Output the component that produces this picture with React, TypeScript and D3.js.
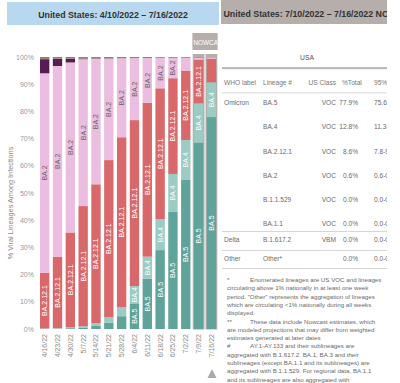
import React from "react";
import * as d3 from "d3";

const dates = ["4/16/22","4/23/22","4/30/22","5/7/22","5/14/22","5/21/22","5/28/22","6/4/22","6/11/22","6/18/22","6/25/22","7/2/22","7/9/22","7/16/22"];
const ba5 = [0.1,0.1,0.3,0.5,1.3,2.3,4.7,9.4,18.5,29.0,43.0,54.8,68.5,77.9];
const ba4 = [0.1,0.2,0.4,0.5,0.9,2.0,3.3,6.4,8.1,11.4,14.0,14.7,14.5,12.8];
const ba2121 = [20.5,26.3,34.8,44.2,51.0,57.8,62.5,61.0,56.6,48.1,35.2,25.5,16.0,8.6];
const ba2 = [73.3,70.1,62.5,54.0,46.1,37.3,29.0,22.8,16.4,11.2,7.5,4.7,0.8,0.6];
const ba11 = [5.2,2.7,1.4,0.2,0.1,0.1,0,0,0,0,0,0,0,0];
const other = [0.8,0.6,0.6,0.6,0.6,0.5,0.5,0.4,0.4,0.3,0.3,0.3,0.2,0.1];
const nowcastCount = 2;

const seriesNames = ["BA.5","BA.4","BA.2.12.1","BA.2","BA.1.1","Other"];
const seriesValues = [ba5, ba4, ba2121, ba2, ba11, other];
const seriesColors = ["#5fa39a","#9bcbc2","#d9686b","#ebbde0","#561d55","#a07a70"];
const labelColors = ["#fff","#fff","#fff","#666","#fff","#fff"];

const yTicks = [0,10,20,30,40,50,60,70,80,90,100];

const tableHeader = ["WHO label","Lineage #","US Class","%Total","95%PI"];
const tableWho = ["Omicron","","","","","","Delta","Other"];
const tableLineage = ["BA.5","BA.4","BA.2.12.1","BA.2","B.1.1.529","BA.1.1","B.1.617.2","Other*"];
const tableClass = ["VOC","VOC","VOC","VOC","VOC","VOC","VBM",""];
const tableTotal = ["77.9%","12.8%","8.6%","0.6%","0.0%","0.0%","0.0%","0.0%"];
const tablePI = ["75.6-80.0%","11.3-14.4%","7.8-9.5%","0.6-0.7%","0.0-0.0%","0.0-0.0%","0.0-0.0%","0.0-0.0%"];
const tableRowY = [103,127,152,176,200,224,240,259];
const tableLines = [231,250,268];

const footnotes = [
  ["*", "Enumerated lineages are US VOC and lineages"],
  ["", "circulating above 1% nationally in at least one week"],
  ["", "period. \"Other\" represents the aggregation of lineages"],
  ["", "which are circulating <1% nationally during all weeks"],
  ["", "displayed."],
  ["**", "These data include Nowcast estimates, which"],
  ["", "are modeled projections that may differ from weighted"],
  ["", "estimates generated at later dates"],
  ["#", "AY.1-AY.133 and their sublineages are"],
  ["", "aggregated with B.1.617.2. BA.1, BA.3 and their"],
  ["", "sublineages (except BA.1.1 and its sublineages) are"],
  ["", "aggregated with B.1.1.529. For regional data, BA.1.1"],
  ["", "and its sublineages are also aggregated with"],
];

const FONT = "'Liberation Sans', Arial, sans-serif";

function textW(s: string, size: number) {
  let w = 0;
  for (const c of s) w += c === "." ? 0.278 : 0.58;
  return w * size;
}

export default function App() {
  const x = d3.scaleBand<string>().domain(dates).range([40, 216.1]).paddingInner(0.27).paddingOuter(0);
  const y = d3.scaleLinear().domain([0, 100]).range([329, 57]);
  const table = dates.map((d, i) => {
    const row: any = { date: d };
    seriesNames.forEach((s, k) => (row[s] = seriesValues[k][i]));
    return row;
  });
  const stacked = d3.stack<any>().keys(seriesNames)(table);
  const bw = x.bandwidth();
  const nowStart = dates.length - nowcastCount;
  const nx0 = x(dates[nowStart])!;
  const nx1 = x(dates[dates.length - 1])! + bw;

  return (
    <svg width={400} height={383} style={{ position: "absolute", left: 0, top: 0, background: "#fff" }} fontFamily={FONT}>
      <defs>
        <clipPath id="hdr2"><rect x={221} y={0} width={166} height={24} /></clipPath>
        <clipPath id="tbl"><rect x={220} y={30} width={167} height={353} /></clipPath>
        <clipPath id="nowc"><rect x={nx0 - 1.5} y={33} width={nx1 - nx0 + 3} height={17} /></clipPath>
      </defs>
      {/* headers */}
      <rect x={7} y={2} width={212} height={23} fill="#b7d8ee" />
      <text x={113} y={17.5} textAnchor="middle" fontSize={8.8} fontWeight="bold" fill="#333">United States: 4/10/2022 – 7/16/2022</text>
      <rect x={221} y={0} width={166} height={24} fill="#b5aeab" />
      <g clipPath="url(#hdr2)">
        <text x={223.5} y={16.5} fontSize={8.8} fontWeight="bold" fill="#333">United States: 7/10/2022 – 7/16/2022 NOWCAST</text>
      </g>

      {/* y axis */}
      {yTicks.map((t) => (
        <text key={t} x={34} y={y(t) + 2.5} textAnchor="end" fontSize={7} fill="#999">{t}%</text>
      ))}
      <text transform={`translate(12.5,${(y(0) + y(100)) / 2 + 10}) rotate(-90)`} textAnchor="middle" fontSize={7.3} fill="#888">% Viral Lineages Among Infections</text>

      {/* nowcast box */}
      <rect x={nx0 - 1.5} y={33} width={nx1 - nx0 + 3} height={17} fill="#b5aeab" />
      <g clipPath="url(#nowc)">
        <text x={nx0 - 0.5} y={44.5} fontSize={6.4} fill="#fff">NOWCAST</text>
      </g>
      {dates.slice(nowStart).map((d) => (
        <rect key={"nb" + d} x={x(d)! - 1.2} y={54} width={bw + 2.4} height={y(0) - 54 + 0.5} fill="#b5aeab" />
      ))}

      {/* bars */}
      {stacked.map((s, k) => (
        <g key={s.key}>
          {s.map((seg, i) => {
            const h = y(seg[0]) - y(seg[1]);
            if (h <= 0) return null;
            return <rect key={i} x={x(dates[i])} y={y(seg[1])} width={bw} height={h} fill={seriesColors[k]} />;
          })}
        </g>
      ))}
      {stacked.map((s, k) => (
        <g key={"l" + s.key}>
          {s.map((seg, i) => {
            const h = y(seg[0]) - y(seg[1]);
            const tw = textW(s.key, 7);
            if (h < tw + 3 || k > 3) return null;
            const cx = x(dates[i])! + bw / 2;
            const cy = (y(seg[0]) + y(seg[1])) / 2;
            return (
              <text key={i} transform={`translate(${cx + 2.4},${cy}) rotate(-90)`} textAnchor="middle" fontSize={7} fill={labelColors[k]}>{s.key}</text>
            );
          })}
        </g>
      ))}

      {/* x labels */}
      {dates.map((d) => (
        <text key={d} transform={`translate(${x(d)! + bw / 2 + 2.4},334) rotate(-90)`} textAnchor="end" fontSize={7} fill="#888">{d}</text>
      ))}
      <path d="M207.5,378 L212,369 L216.5,378 Z" fill="#aaa" />

      {/* table */}
      <g clipPath="url(#tbl)" fontSize={6.6} fill="#6a6a6a">
        <text x={307} y={59.5} textAnchor="middle" fill="#555" fontSize={6.8}>USA</text>
        <rect x={222} y={67} width={165} height={2.2} fill="#bbb" />
        <text x={224} y={85} fill="#777">{tableHeader[0]}</text>
        <text x={263} y={85} fill="#777">{tableHeader[1]}</text>
        <text x={336} y={85} textAnchor="end" fill="#777">{tableHeader[2]}</text>
        <text x={342} y={85} fill="#777">{tableHeader[3]}</text>
        <text x={374} y={85} fill="#777">{tableHeader[4]}</text>
        <rect x={222} y={92.5} width={165} height={0.8} fill="#ccc" />
        {tableLineage.map((l, i) => (
          <g key={l}>
            <text x={224} y={tableRowY[i] + 2.3}>{tableWho[i]}</text>
            <text x={263} y={tableRowY[i] + 2.3}>{l}</text>
            <text x={336} y={tableRowY[i] + 2.3} textAnchor="end">{tableClass[i]}</text>
            <text x={358} y={tableRowY[i] + 2.3} textAnchor="end">{tableTotal[i]}</text>
            <text x={374} y={tableRowY[i] + 2.3}>{tablePI[i]}</text>
          </g>
        ))}
        {tableLines.map((ly) => (
          <rect key={ly} x={222} y={ly} width={165} height={0.8} fill="#ccc" />
        ))}
        {footnotes.map((f, i) => (
          <g key={i} fontSize={6.2}>
            {f[0] && <text x={227} y={282 + i * 8.3}>{f[0]}</text>}
            <text x={f[0] ? 250 : 227} y={282 + i * 8.3}>{f[1]}</text>
          </g>
        ))}
      </g>
    </svg>
  );
}
